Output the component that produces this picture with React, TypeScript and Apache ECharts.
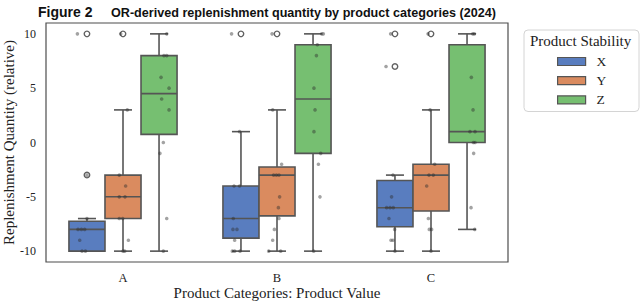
import React, { useEffect, useRef } from "react";
import * as echarts from "echarts";

// ---- data ----
const categories = ["A", "B", "C"];
const stabilities = ["X", "Y", "Z"];
const fillColors = ["#597dbf", "#da8b5f", "#76bf71"];

// box stats per stability: [min(whisker), Q1, median, Q3, max(whisker)] for A, B, C
const boxX = [
  [-10, -10, -8, -7.25, -7],
  [-10, -8.8, -7, -4, 1],
  [-10, -7.75, -6, -3.5, -3],
];
const boxY = [
  [-10, -7, -5, -3, 3],
  [-10, -6.75, -3, -2.25, 3],
  [-10, -6.3, -3, -2, 3],
];
const boxZ = [
  [-10, 0.75, 4.5, 8, 10],
  [-10, -1, 4, 9, 10],
  [-8, 0, 1, 9, 10],
];

// outliers per stability, per category
const outX = [[10, -3], [10], [10, 7]];
const outY = [[10], [10], [10]];
const outZ: number[][] = [[], [], []];

// strip points: [value, jitter (fraction of category band)]
const ptsX = [
  [[10, -0.062], [-3, 0.0], [-7, 0.0], [-8, -0.058], [-8, -0.036], [-8, -0.015], [-9, -0.047], [-10, -0.032], [-10, -0.01]],
  [[10, -0.061], [1, -0.009], [-4, -0.045], [-4, -0.009], [-7, -0.05], [-8, -0.052], [-8, -0.026], [-9, -0.041], [-10, -0.056], [-10, -0.041], [-10, -0.006]],
  [[10, -0.028], [7, -0.058], [-3, -0.013], [-5, -0.022], [-6, -0.054], [-6, -0.032], [-6, -0.011], [-7, -0.039], [-8, -0.002], [-9, -0.026], [-9, -0.013], [-10, 0.0]],
];
const ptsY = [
  [[10, -0.015], [3, 0.028], [-3, -0.024], [-4, 0.017], [-5, -0.024], [-5, 0.013], [-7, -0.024], [-7, -0.002], [-9, 0.035], [-10, 0.0], [-10, 0.011]],
  [[10, -0.032], [3, -0.028], [-2, 0.03], [-3, -0.022], [-3, -0.004], [-3, 0.013], [-5, 0.017], [-6, 0.009], [-7, 0.013], [-8, -0.017], [-9, -0.028], [-10, -0.054], [-10, 0.024]],
  [[10, -0.019], [3, -0.006], [-2, 0.024], [-3, -0.013], [-3, 0.015], [-4, -0.028], [-7, -0.017], [-8, -0.011], [-8, 0.004], [-10, 0.0]],
];
const ptsZ = [
  [[10, 0.05], [8, 0.032], [8, 0.05], [6, 0.013], [5, 0.065], [4, 0.017], [3, 0.065], [0, 0.028], [-1, 0.006], [-7, 0.05], [-10, 0.028]],
  [[10, 0.056], [10, 0.067], [9, 0.028], [8, 0.022], [5, 0.006], [3, 0.013], [1, 0.006], [-1, 0.05], [-2, 0.035], [-5, 0.045], [-10, 0.004]],
  [[10, 0.037], [10, 0.048], [6, 0.028], [3, 0.039], [1, 0.019], [1, 0.052], [0, 0.041], [0, 0.052], [-1, 0.043], [-6, 0.026], [-8, 0.05]],
];

const yTicks = [-10, -5, 0, 5, 10];

const boxes = [boxX, boxY, boxZ];
const outs = [outX, outY, outZ];
const pts = [ptsX, ptsY, ptsZ];

const BOX_W = 0.234;
const OFFSETS = [-0.234, 0, 0.234];
const EDGE = "#555555";
const SERIF = "'Liberation Serif', 'Times New Roman', serif";
const SANS = "'Liberation Sans', Arial, Helvetica, sans-serif";

export default function App() {
  const ref = useRef<HTMLDivElement>(null);

  useEffect(() => {
    if (!ref.current) return;
    document.body.style.margin = "0";
    const chart = echarts.init(ref.current, undefined, { renderer: "svg" });

    const series: any[] = [];

    stabilities.forEach((name, si) => {
      series.push({
        type: "custom",
        name,
        itemStyle: { color: fillColors[si] },
        encode: { x: 0, y: [1, 2, 3, 4, 5] },
        data: boxes[si].map((b, ci) => [ci, ...b]),
        z: 2,
        renderItem: (params: any, api: any) => {
          const ci = api.value(0);
          const xc = ci + OFFSETS[si];
          const mn = api.value(1);
          const q1 = api.value(2);
          const md = api.value(3);
          const q3 = api.value(4);
          const mx = api.value(5);
          const pL = api.coord([xc - BOX_W / 2, q3]);
          const pR = api.coord([xc + BOX_W / 2, q1]);
          const c = (x: number, y: number) => api.coord([x, y]);
          const lineStyle = { stroke: EDGE, lineWidth: 1.6 };
          const mdL = c(xc - BOX_W / 2, md);
          const mdR = c(xc + BOX_W / 2, md);
          const capW = BOX_W / 4;
          const children: any[] = [
            {
              type: "line",
              shape: { x1: c(xc, q3)[0], y1: c(xc, q3)[1], x2: c(xc, mx)[0], y2: c(xc, mx)[1] },
              style: lineStyle,
            },
            {
              type: "line",
              shape: { x1: c(xc, q1)[0], y1: c(xc, q1)[1], x2: c(xc, mn)[0], y2: c(xc, mn)[1] },
              style: lineStyle,
            },
            {
              type: "line",
              shape: { x1: c(xc - capW, mx)[0], y1: c(xc, mx)[1], x2: c(xc + capW, mx)[0], y2: c(xc, mx)[1] },
              style: lineStyle,
            },
            {
              type: "line",
              shape: { x1: c(xc - capW, mn)[0], y1: c(xc, mn)[1], x2: c(xc + capW, mn)[0], y2: c(xc, mn)[1] },
              style: lineStyle,
            },
            {
              type: "rect",
              shape: { x: pL[0], y: pL[1], width: pR[0] - pL[0], height: pR[1] - pL[1] },
              style: { fill: fillColors[si], stroke: EDGE, lineWidth: 1.6 },
            },
            {
              type: "line",
              shape: { x1: mdL[0], y1: mdL[1], x2: mdR[0], y2: mdR[1] },
              style: lineStyle,
            },
          ];
          return { type: "group", children };
        },
      });
    });

    stabilities.forEach((name, si) => {
      const data: number[][] = [];
      pts[si].forEach((list, ci) => {
        list.forEach((p) => data.push([ci + OFFSETS[si] + p[1], p[0]]));
      });
      series.push({
        type: "scatter",
        name: name + " points",
        data,
        symbol: "circle",
        symbolSize: 3.6,
        itemStyle: { color: "rgba(45,45,45,0.55)" },
        z: 4,
        silent: true,
      });
    });

    stabilities.forEach((name, si) => {
      const data: number[][] = [];
      outs[si].forEach((list, ci) => {
        list.forEach((v) => data.push([ci + OFFSETS[si], v]));
      });
      series.push({
        type: "scatter",
        name: name + " outliers",
        data,
        symbol: "circle",
        symbolSize: 5.5,
        itemStyle: { color: "rgba(255,255,255,0)", borderColor: "#3a3a3a", borderWidth: 1.4 },
        z: 5,
        silent: true,
      });
    });

    chart.setOption({
      animation: false,
      backgroundColor: "#ffffff",
      title: [
        {
          text: "Figure 2",
          left: 33,
          top: 0,
          textStyle: { fontFamily: SANS, fontWeight: "bold", fontSize: 14, color: "#111" },
        },
        {
          text: "OR-derived replenishment quantity by product categories (2024)",
          left: 106,
          top: 1,
          textStyle: { fontFamily: SANS, fontWeight: "bold", fontSize: 12.6, color: "#111" },
        },
      ],
      grid: {
        left: 46,
        right: 132,
        top: 23,
        bottom: 40,
        containLabel: false,
        outerBoundsMode: "none",
        show: true,
        borderColor: "#4d4d4d",
        borderWidth: 1.2,
        backgroundColor: "#ffffff",
      },
      xAxis: {
        type: "value",
        min: -0.5,
        max: 2.5,
        name: "Product Categories: Product Value",
        nameLocation: "middle",
        nameGap: 23,
        nameMoveOverlap: false,
        nameTextStyle: { fontFamily: SERIF, fontSize: 15, color: "#222" },
        axisLine: { show: false },
        axisTick: { show: false },
        splitLine: { show: false },
        axisLabel: {
          customValues: [0, 1, 2],
          formatter: (v: number) => categories[Math.round(v)] ?? "",
          fontFamily: SERIF,
          fontSize: 12.5,
          color: "#222",
          margin: 9,
        },
      },
      yAxis: {
        type: "value",
        min: -11,
        max: 11,
        name: "Replenishment Quantity (relative)",
        nameLocation: "middle",
        nameGap: 30,
        nameMoveOverlap: false,
        nameTextStyle: { fontFamily: SERIF, fontSize: 15, color: "#222" },
        axisLine: { show: false },
        axisTick: { show: false },
        splitLine: { show: false },
        axisLabel: {
          customValues: yTicks,
          fontFamily: SERIF,
          fontSize: 12,
          color: "#222",
          margin: 10,
        },
      },
      legend: {
        orient: "vertical",
        left: 557,
        top: 54.5,
        icon: "rect",
        itemWidth: 28,
        itemHeight: 8,
        itemGap: 5.2,
        padding: 0,
        itemStyle: { borderColor: EDGE, borderWidth: 1.2 },
        textStyle: { fontFamily: SERIF, fontSize: 13.5, color: "#222", padding: [0, 0, 0, 6] },
        data: stabilities.map((s, i) => ({ name: s, itemStyle: { color: fillColors[i] } })),
        selectedMode: false,
      },
      graphic: [
        {
          type: "rect",
          left: 523.5,
          top: 29.5,
          shape: { width: 115, height: 81.5, r: 4 },
          style: { fill: "rgba(255,255,255,0.85)", stroke: "#d4d4d4", lineWidth: 1 },
          z: 1,
        },
        {
          type: "text",
          left: 530,
          top: 33,
          style: {
            text: "Product Stability",
            font: `15px ${SERIF}`,
            fill: "#222",
          },
          z: 2,
        },
      ],
      series,
    });

    return () => chart.dispose();
  }, []);

  return (
    <div
      ref={ref}
      style={{ width: 640, height: 302, position: "absolute", left: 0, top: 0 }}
    />
  );
}
